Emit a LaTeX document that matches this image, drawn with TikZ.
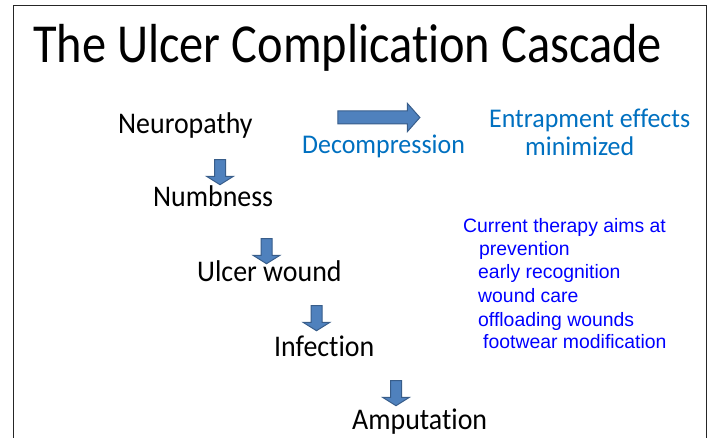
\documentclass[tikz,border=0pt]{standalone}
\usepackage{fontspec}
\setmainfont{Carlito}[Ligatures=NoCommon]
\newfontfamily\listfont{Liberation Sans}
\usepackage{tikz}
\usetikzlibrary{positioning,shapes.arrows}

\definecolor{arrfill}{RGB}{79,129,189}
\definecolor{arrline}{RGB}{56,93,138}
\definecolor{officeblue}{RGB}{0,112,192}
\definecolor{listblue}{RGB}{0,0,255}

\begin{document}
\begin{tikzpicture}[x=1pt,y=-1pt,inner sep=0pt]
            \tikzstyle{stage}=[anchor=base west,xscale=0.93,font=\fontsize{30}{36}\selectfont]
            \tikzstyle{bluetext}=[anchor=base west,xscale=0.96,text=officeblue,font=\fontsize{27}{32}\selectfont]
            \tikzstyle{listline}=[anchor=base west,text=listblue,font=\listfont\fontsize{19.4}{23}\selectfont]
            \tikzstyle{downarr}=[single arrow, draw=arrline, fill=arrfill, line width=1pt,
                    rotate=-90, inner xsep=0pt, inner ysep=5pt, minimum height=25pt,
                    single arrow head extend=8pt, single arrow tip angle=116]

            \useasboundingbox (0,0) rectangle (710,438);
            \draw[line width=1.5pt, black!85] (13.5,5.5) rectangle (706.5,450);

            \node[anchor=base west, xscale=0.88, font=\fontsize{55}{62}\selectfont] (title) at (33,63) {The Ulcer Complication Cascade};

            % the cascade
            \node[stage] (neuro) at (118,134) {Neuropathy};
            \node[stage] (numb)  at (153,207) {Numbness};
            \node[stage] (ulcer) at (197,282) {Ulcer wound};
            \node[stage] (infec) at (274,357) {Infection};
            \node[stage] (amput) at (352,429) {Amputation};

            \node[downarr] (a1) at (220,170.5) {};
            \node[downarr] (a2) at (266.5,249.5) {};
            \node[downarr] (a3) at (316.5,316.5) {};
            \node[downarr] (a4) at (396,391.5) {};

            % decompression branch
            \node[single arrow, draw=arrline, fill=arrfill, line width=1pt,
                  inner xsep=0pt, inner ysep=6pt, minimum height=82pt,
                  single arrow head extend=7.5pt, single arrow tip angle=97] (decarr) at (376,117.5) {};
            \node[bluetext] (decomp) at (302,154) {Decompression};
            \node[bluetext] (entrap) at (489,128) {Entrapment effects};
            \node[bluetext] (minim)  at (525,156) {minimized};

            % therapy list
            \node[listline] (aims)  at (463,233) {Current therapy aims at};
            \node[listline] (prev)  at (479,256) {prevention};
            \node[listline] (early) at (478,279) {early recognition};
            \node[listline] (care)  at (478,303) {wound care};
            \node[listline] (offl)  at (478,327) {offloading wounds};
            \node[listline] (foot)  at (483,349) {footwear modification};
        \end{tikzpicture}
\end{document}
